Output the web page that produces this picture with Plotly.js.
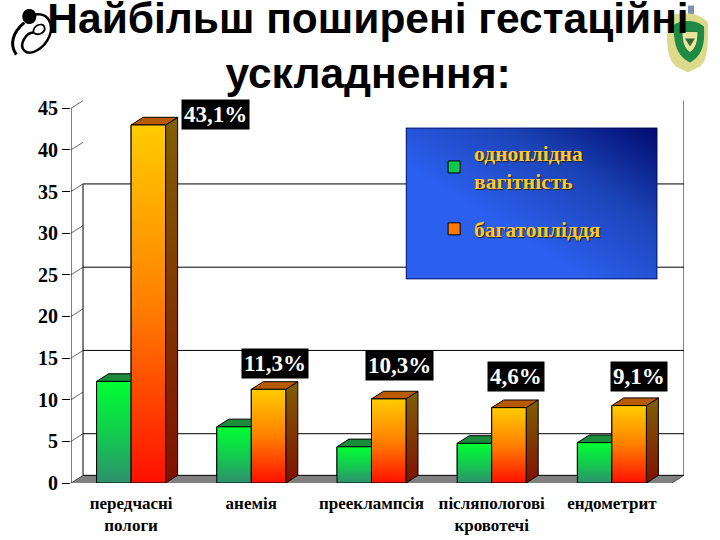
<!DOCTYPE html>
<html><head><meta charset="utf-8">
<script src="https://cdn.plot.ly/plotly-3.0.1.min.js"></script>
<style>html,body{margin:0;padding:0;background:#fff}</style></head>
<body><div id="c" style="width:720px;height:540px"></div>
<script>
const categories = ["передчасні<br>пологи","анемія","прееклампсія","післяпологові<br>кровотечі","ендометрит"];
const singleValues = [12.2,6.75,4.35,4.76,4.85];
const multipleValues = [43.0,11.25,10.1,9.05,9.3];
const percentLabels = ["43,1%","11,3%","10,3%","4,6%","9,1%"];
const yTicks = [0,5,10,15,20,25,30,35,40,45];
const gridValues = [5,15,25,35];
const seriesNames = ["однопліднa<br>вагітність","багатопліддя"];

const M={l:70.7,r:36,t:99.5,b:57.3};
const W=720-M.l-M.r,H=540-M.t-M.b;
const fx=p=>(p-M.l)/W, fy=p=>1-(p-M.t)/H;
const DX=0.1,DY=0.92,GAP=0.426,BW=(1-GAP)/2;
const xIdx=categories.map((_,i)=>i);
const BL='#000';

function line(xs,ys,w,dash){return {type:'scatter',mode:'lines',x:xs,y:ys,cliponaxis:false,showlegend:false,hoverinfo:'skip',
  line:{color:BL,width:w||1,dash:dash||'solid'}};}
function poly(xs,ys,scale,lw){const t={type:'scatter',mode:'lines',x:xs.concat(xs[0]),y:ys.concat(ys[0]),fill:'toself',cliponaxis:false,
  showlegend:false,hoverinfo:'skip',line:{color:BL,width:lw===undefined?1:lw},fillcolor:scale[0][1]};
  t.fillgradient={type:'vertical',colorscale:scale};return t;}
function solid(xs,ys,c){return {type:'scatter',mode:'lines',x:xs.concat(xs[0]),y:ys.concat(ys[0]),fill:'toself',cliponaxis:false,
  showlegend:false,hoverinfo:'skip',line:{color:BL,width:1},fillcolor:c};}

const GREEN=[[0,'#2f8f6e'],[0.45,'#14c850'],[1,'#00ff33']];
const ORANGE=[[0,'#ff1000'],[0.5,'#ff8000'],[1,'#ffcc00']];
const SIDE=[[0,'#801000'],[0.5,'#803800'],[1,'#806000']];

const traces=[
 {type:'bar',name:seriesNames[0],x:xIdx,y:singleValues,legendgroup:'a',marker:{color:'#10c850',line:{color:BL,width:1}},hoverinfo:'skip'},
 {type:'bar',name:seriesNames[1],x:xIdx,y:multipleValues,legendgroup:'b',marker:{color:'#ff7a00',line:{color:BL,width:1}},hoverinfo:'skip'}
];
traces.push({type:'scatter',mode:'lines',x:[-0.5,4.5,4.6,-0.4,-0.5],y:[0,0,DY,DY,0],fill:'toself',fillcolor:'#808080',line:{width:0},cliponaxis:false,showlegend:false,hoverinfo:'skip'});
gridValues.forEach(v=>traces.push(line([-0.4,4.6],[v+DY,v+DY],1)));
traces.push(line([-0.4,4.6],[DY,DY],1));
traces.push(line([-0.5,-0.5],[0,45],1));
traces.push(line([-0.4,-0.4],[DY,35+DY],1));
traces.push(line([4.6,4.6],[DY,45+DY],1));
yTicks.forEach(v=>traces.push(line([-0.5,-0.4],[v,v+DY],0.6)));
traces.push(line([4.5,4.6],[0,DY],0.6));
[-0.5,0.5,1.5,2.5,3.5,4.5].forEach(v=>traces.push(line([v,v],[0,-0.65],1)));
xIdx.forEach(i=>{
  const g0=i-BW,g1=i,o1=i+BW,a=singleValues[i],b=multipleValues[i];
  traces.push(solid([g0,g1,g1+DX,g0+DX],[a,a,a+DY,a+DY],'#1a8c3c'));
  traces.push(poly([g0,g1,g1,g0],[0,0,a,a],GREEN));
  traces.push(poly([o1,o1+DX,o1+DX,o1],[0,DY,b+DY,b],SIDE));
  traces.push(solid([g1,o1,o1+DX,g1+DX],[b,b,b+DY,b+DY],'#b85a00'));
  traces.push(poly([g1,o1,o1,g1],[0,0,b,b],ORANGE));
});

const labelX=[215.5,275,399.5,515.5,638.5].map(p=>-0.5+(p-70.7)/120.25);
const labelY=[114.5,363.5,365,376,376.5].map(p=>(482.7-p)/8.33);
const annotations=percentLabels.map((t,i)=>({x:labelX[i],y:labelY[i],xref:'x',yref:'y',text:t,showarrow:false,
  bgcolor:'#000',borderpad:2,font:{family:'Liberation Serif',size:23,weight:700,color:'#fff'}}));

const svg="<svg xmlns='http://www.w3.org/2000/svg' width='252' height='152'><defs><linearGradient id='g' x1='1' y1='0' x2='0.35' y2='0.62'>"+
 "<stop offset='0' stop-color='#000a6e'/><stop offset='0.5' stop-color='#1c44b8'/><stop offset='1' stop-color='#2b5fee'/></linearGradient></defs>"+
 "<rect width='252' height='152' fill='url(#g)'/><rect x='0.5' y='0.5' width='251' height='151' fill='none' stroke='#000a50'/></svg>";

const layout={
 width:720,height:540,margin:M,paper_bgcolor:'#fff',plot_bgcolor:'#fff',
 barmode:'group',bargap:GAP,bargroupgap:0,
 title:{text:'Найбільш поширені гестаційні<br>ускладнення:',x:368/720,xanchor:'center',xref:'container',y:0.939,yanchor:'top',yref:'container',
   font:{family:'Liberation Sans',size:42.5,weight:700,color:'#000'},pad:{t:0,b:0,l:0,r:0}},
 xaxis:{range:[-0.5,4.6],tickmode:'array',tickvals:xIdx,ticktext:categories,ticks:'',showgrid:false,zeroline:false,showline:false,ticklabelstandoff:8,
   tickfont:{family:'Liberation Serif',size:17,weight:700,color:'#000'},fixedrange:true},
 yaxis:{range:[0,46],tickmode:'array',tickvals:yTicks,ticktext:yTicks.map(String),ticks:'outside',ticklen:8,tickcolor:'#000',tickwidth:1,
   showgrid:false,zeroline:false,showline:false,tickfont:{family:'Liberation Serif',size:20,weight:700,color:'#000'},fixedrange:true},
 legend:{x:fx(434),y:fy(132),xanchor:'left',yanchor:'top',bgcolor:'rgba(0,0,0,0)',borderwidth:0,traceorder:'grouped',tracegroupgap:17,itemwidth:30,
   font:{family:'Liberation Serif',size:21.5,weight:700,color:'#ffc832',shadow:'1px 1px 1px #222'}},
 annotations:annotations,
 images:[{source:'data:image/svg+xml;utf8,'+encodeURIComponent(svg),xref:'paper',yref:'paper',x:fx(405.5),y:fy(127),sizex:252/W,sizey:152/H,
   sizing:'stretch',xanchor:'left',yanchor:'top',layer:'above'}],
 shapes:logoShapes()
};
function logoShapes(){
  const P=(pts)=>pts.map(s=>typeof s==='string'?s:fx(s[0])+','+fy(s[1])).join(' ');
  const sh=(pts,fill,lc,lw)=>({type:'path',xref:'paper',yref:'paper',path:P(pts),fillcolor:fill,line:{color:lc,width:lw},layer:'above'});
  const no='rgba(0,0,0,0)';
  return [
   sh(['M',[22,16],'C',[22,6],[36,6],[36,16],'C',[36,26],[22,26],[22,16],'Z'],'#000','#000',0),
   sh(['M',[24,22],'C',[12,32],[9,44],[16,54]],no,'#000',3),
   sh(['M',[35,14],'C',[48,12],[54,24],[49,36],'C',[44,48],[30,56],[24,50],'C',[18,44],[26,32],[33,32]],no,'#000',2.5),
   sh(['M',[33,32],'C',[33,24],[42,22],[44,26],'C',[46,32],[38,36],[33,32]],no,'#000',1.8),
   sh(['M',[688,5],'L',[694,5],'L',[694,14],'L',[688,14],'Z'],'#7f8fb0',no,0),
   sh(['M',[667,16],'C',[682,11],[698,11],[708,22],'C',[708,45],[708,60],[700,66],'L',[688,72],'L',[676,66],'C',[664,55],[668,35],[667,16],'Z'],'#dcd98a',no,0),
   sh(['M',[674,24],'C',[684,18],[698,20],[704,26],'C',[705,45],[702,55],[690,62],'C',[678,56],[673,45],[674,24],'Z'],'#1f8a44',no,0),
   sh(['M',[682,31],'L',[698,31],'C',[698,42],[696,48],[690,52],'C',[684,48],[682,42],[682,31],'Z'],'#e6e6a0','#2a7a3a',1),
   sh(['M',[685,38],'L',[695,38],'L',[690,46],'Z'],'#3a6a30',no,0)
  ];
}
Plotly.newPlot('c',traces,layout,{displayModeBar:false,staticPlot:true});
</script></body></html>
